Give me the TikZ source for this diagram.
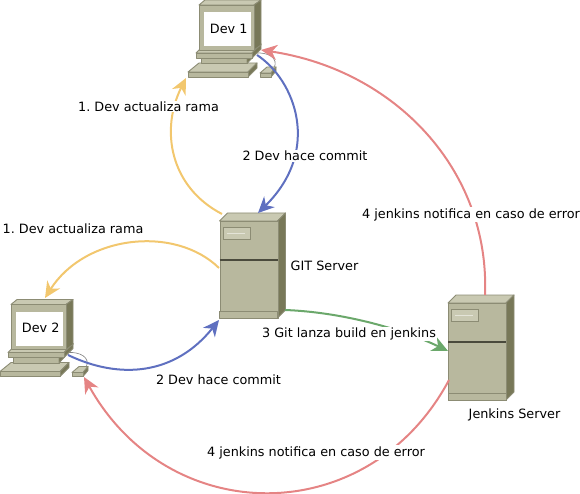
\documentclass[tikz,border=0pt]{standalone}
\usepackage{fontspec}
\setmainfont{DejaVu Sans}
\frenchspacing
\usetikzlibrary{arrows.meta}
\definecolor{cfront}{HTML}{B8B89E}
\definecolor{cside}{HTML}{787858}
\definecolor{ctop}{HTML}{C9C9B2}
\definecolor{cedge}{HTML}{8C8C74}
\definecolor{cdark}{HTML}{4A4A3C}
\definecolor{cyel}{HTML}{F2C76E}
\definecolor{cblu}{HTML}{5F70C0}
\definecolor{cred}{HTML}{E58484}
\definecolor{cgrn}{HTML}{6BA86B}
\tikzset{
  edgeline/.style={draw=cedge,line width=0.9pt,line join=round},
  front/.style={edgeline,fill=cfront},
  sidef/.style={edgeline,fill=cside},
  topf/.style={edgeline,fill=ctop},
  link/.style={line width=2pt,-{Stealth[length=16pt,width=15pt,inset=5pt]}},
  lab/.style={fill=white,inner sep=1pt,font=\fontsize{12.8pt}{14pt}\selectfont,text=black},
  screenbox/.style={draw=white,fill=white,line width=0.5pt,minimum width=46pt,minimum height=33pt,inner sep=0pt,font=\fontsize{12.8pt}{14pt}\selectfont},
  serverbox/.style={front,minimum width=58pt,minimum height=97pt,inner sep=0pt}
}
\newcommand{\serverat}[3]{% x, y of front top-left, name
\begin{scope}[shift={(#1,#2)}]
  \fill[topf] (0,0) -- (8,-8) -- (66,-8) -- (58,0) -- cycle;
  \fill[sidef] (58,0) -- (66,-8) -- (66,89) -- (58,97) -- cycle;
  \node[serverbox,anchor=north west] (#3) at (0,0) {};
  \fill[front] (0,90) rectangle (58,97);
  \fill[ctop,draw=cedge,line width=0.7pt] (3.5,6) rectangle (30.5,18.5);
  \draw[white!50!ctop,line width=0.7pt] (7,12) -- (25,12);
  \draw[cdark,line width=2pt] (0,38.5) -- (58,38.5);
\end{scope}}
\newcommand{\computerat}[4]{% x, y offset, name, text
\begin{scope}[shift={(#1,#2)}]
  % mouse cable
  \draw[gray,line width=0.6pt] (255,53) .. controls (268,52) and (279,58) .. (274,68);
  % mouse
  \fill[topf] (260,73) -- (267,67) -- (276,67) -- (271,73) -- cycle;
  \fill[sidef] (271,73) -- (276,67) -- (276,71) -- (271,77) -- cycle;
  \fill[front] (260,73) rectangle (271,77);
  % keyboard
  \fill[topf] (188,72) -- (199,63) -- (257,63) -- (248,72) -- cycle;
  \fill[sidef] (248,72) -- (257,63) -- (257,68) -- (248,77) -- cycle;
  \fill[front] (188,72) rectangle (248,77);
  % base neck
  \fill[front] (201.5,58) rectangle (247,63.5);
  \fill[sidef] (247,58) -- (253,52) -- (253,57) -- (247,63.5) -- cycle;
  % base plate
  \fill[topf] (196,53) -- (202,47) -- (261,44) -- (252,53) -- cycle;
  \fill[sidef] (252,53) -- (261,44) -- (261,49) -- (252,58) -- cycle;
  \fill[front] (196,53) rectangle (252,58);
  % monitor
  \fill[topf] (199,5) -- (205,0) -- (261,0) -- (254,5) -- cycle;
  \fill[sidef] (254,5) -- (261,0) -- (261,45) -- (254,50) -- cycle;
  \fill[front] (199,5) rectangle (254,50);
  \node[screenbox,anchor=north west] (#3) at (204,12) {\hspace*{3pt}#4};
\end{scope}}
\begin{document}
\begin{tikzpicture}[x=1pt,y=-1pt]
\useasboundingbox (0,0) rectangle (580,494);
\computerat{0}{0}{dev1}{Dev 1}
\computerat{-188}{299.5}{dev2}{Dev 2}
\serverat{219.5}{221}{git}
\serverat{448}{303}{jenkins}

\coordinate (y1s) at (222,214);
\coordinate (y1e) at (186,78);
\coordinate (b1s) at (257,55);
\coordinate (b1e) at (258,213);
\coordinate (r1s) at (485,295);
\coordinate (r1e) at (261,50);
\coordinate (gs) at (285,310);
\coordinate (ge) at (448,351);
\coordinate (y2s) at (219,268);
\coordinate (y2e) at (45,298);
\coordinate (b2s) at (68,355);
\coordinate (b2e) at (219,320);
\coordinate (r2s) at (449,380);
\coordinate (r2e) at (84,377);

\draw[link,cyel] (y1s) .. controls (170,187) and (160,130) .. (y1e);
\draw[link,cblu] (b1s) .. controls (295,80) and (322,150) .. (b1e);
\draw[link,cred] (r1s) .. controls (490,170) and (395,70) .. (r1e);
\draw[link,cgrn] (gs) .. controls (340,312) and (400,328) .. (ge);
\draw[link,cyel] (y2s) .. controls (175,225) and (85,235) .. (y2e);
\draw[link,cblu] (b2s) .. controls (120,380) and (175,375) .. (b2e);
\draw[link,cred] (r2s) .. controls (369,530) and (169,530) .. (r2e);

\node[lab] (l1) at (148.5,106.5) {1. Dev actualiza rama};
\node[lab] (l2) at (305,156) {2 Dev hace commit};
\node[lab] (l3) at (73,228.5) {1. Dev actualiza rama};
\node[lab] (l4) at (218.5,380) {2 Dev hace commit};
\node[lab] (l5) at (349,334) {3 Git lanza build en jenkins};
\node[lab] (l6) at (471,214.5) {4 jenkins notifica en caso de error};
\node[lab] (l7) at (316,452.5) {4 jenkins notifica en caso de error};
\node[lab,fill=none] (l8) at (324.5,265.5) {GIT Server};
\node[lab,fill=none] (l9) at (514.5,415) {Jenkins Server};
\end{tikzpicture}
\end{document}
